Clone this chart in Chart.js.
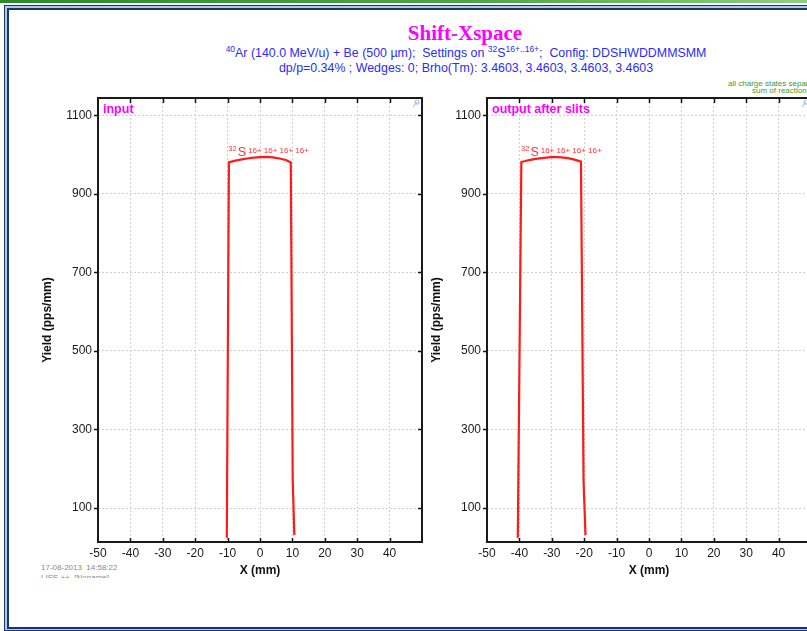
<!DOCTYPE html>
<html><head><meta charset="utf-8">
<script src="https://cdn.jsdelivr.net/npm/chart.js@4.4.1/dist/chart.umd.min.js"></script>
<style>
html,body{margin:0;padding:0;width:807px;height:631px;overflow:hidden;background:#fff;font-family:"Liberation Sans",Arial,sans-serif;}
#topbar{position:absolute;left:0;top:0;width:807px;height:3px;background:linear-gradient(to right,#2a8a2a,#4ea64a 60%,#8ccf84);}
#frame1{position:absolute;left:4px;top:5px;width:900px;height:626px;background:#b4c8e2;border-left:1px solid #17386a;border-top:1px solid #17386a;border-bottom:1px solid #17386a;box-sizing:border-box}
#frame2{position:absolute;left:7px;top:8px;width:900px;height:621px;background:#fff;border:2px solid #17386a;box-sizing:border-box}
.abs{position:absolute;white-space:nowrap}
#title{left:0;width:930px;top:23px;text-align:center;font:bold 21px/21px "Liberation Serif","Times New Roman",serif;color:#ff00ff}
.sub{left:0;width:932px;text-align:center;font:12.4px/14px "Liberation Sans",Arial,sans-serif;color:#2b2bff}
.sub sup{font-size:8.5px;line-height:0;position:relative;top:0px}
#sub1{top:46px}
#sub2{top:61px}
.grn{font:8px/7px "Liberation Sans",Arial,sans-serif;color:#3a9a3a}
#stamp{left:41px;top:563px;height:15px;overflow:hidden;font:8px/10px "Liberation Sans",Arial,sans-serif;color:#8a8a8a}
.chartbox{position:absolute;top:90px;width:430px;height:500px}
</style></head>
<body>
<div id="topbar"></div>
<div id="frame1"></div>
<div id="frame2"></div>
<div class="abs" id="title">Shift-Xspace</div>
<div class="abs sub" id="sub1"><sup>40</sup>Ar (140.0 MeV/u) + Be (500 µm);&nbsp; Settings on <sup>32</sup>S<sup>16+..16+</sup>;&nbsp; Config: DDSHWDDMMSMM</div>
<div class="abs sub" id="sub2">dp/p=0.34% ; Wedges: 0; Brho(Tm): 3.4603, 3.4603, 3.4603, 3.4603</div>
<div class="abs grn" style="left:728px;top:80px">all charge states separated</div>
<div class="abs grn" style="left:752px;top:87px">sum of reactions</div>
<div class="abs" id="stamp">17-08-2013&nbsp; 14:58:22<br>LISE ++&nbsp; [Noname]</div>
<div class="chartbox" style="left:0px"><canvas id="c1" width="430" height="500"></canvas></div>
<div class="chartbox" style="left:389px"><canvas id="c2" width="430" height="500"></canvas></div>
<script>
// ---- data ----
const xTicks = [-50, -40, -30, -20, -10, 0, 10, 20, 30, 40];
const yTicks = [100, 300, 500, 700, 900, 1100];
const xRange = [-50, 50];
const yRange = [13.5, 1144];

const inputX = [-10.25, -9.6, -8, -6, -4, -2, 0, 2, 4, 6, 8, 9.5, 10.1, 10.6];
const inputY = [24, 980, 984, 987, 990, 992, 993.5, 994, 993, 990, 986, 980, 170, 31];

const outputX = [-40.5, -39.4, -37, -35, -33, -31, -29.5, -27, -25, -23, -21, -20.2, -19.6];
const outputY = [24, 981, 986, 989, 991, 993, 994, 993, 991, 987, 982, 170, 31];

const panelLabels = ['input', 'output after slits'];
const annotX = [-9.8, -39.5];
const annotY = [1004, 1004];
const annotIsotope = ['32', 'S'];
const annotCharges = '16+ 16+ 16+ 16+';

const FAM = '"Liberation Sans", Arial, sans-serif';

const framePlugin = {
  id: 'frame',
  afterDraw(chart, args, o) {
    const {ctx, chartArea: {left, right, top, bottom}, scales: {x, y}} = chart;
    ctx.save();
    ctx.strokeStyle = '#111'; ctx.lineWidth = 1.5;
    const ln = (a, b, c, d) => { ctx.beginPath(); ctx.moveTo(a, b); ctx.lineTo(c, d); ctx.stroke(); };
    xTicks.forEach(v => {
      if (v <= xRange[0] || v >= xRange[1]) return;
      const px = Math.round(x.getPixelForValue(v)) + 0.5;
      ln(px, top, px, top + 5);
      ln(px, bottom, px, bottom - 4);
    });
    yTicks.forEach(v => {
      const py = Math.round(y.getPixelForValue(v)) + 0.5;
      ln(left - 4, py, left, py);
      ln(right, py, right - 4, py);
    });
    ctx.strokeStyle = '#1a1a1a'; ctx.lineWidth = 2;
    ctx.strokeRect(left, top, right - left, bottom - top);
    ctx.fillStyle = '#ff00ff';
    ctx.font = 'bold 12.5px ' + FAM;
    ctx.textBaseline = 'alphabetic';
    ctx.fillText(o.label, left + 5, top + 15);
    ctx.strokeStyle = '#a8c4e8'; ctx.lineWidth = 1.2;
    ln(right - 9, top + 9, right - 5, top + 4);
    ctx.beginPath(); ctx.arc(right - 5, top + 4, 2, 0, Math.PI * 2); ctx.stroke();
    const ax = x.getPixelForValue(o.ax), ay = y.getPixelForValue(o.ay);
    ctx.fillStyle = '#ff3333';
    ctx.font = '7.5px ' + FAM;
    ctx.fillText(annotIsotope[0], ax, ay - 2);
    ctx.font = '12.5px ' + FAM;
    ctx.fillText(annotIsotope[1], ax + 9.4, ay + 3);
    ctx.font = '8px ' + FAM;
    ctx.fillText(annotCharges, ax + 19.7, ay);
    ctx.restore();
  }
};

function makeChart(id, xs, ys, idx) {
  return new Chart(document.getElementById(id), {
    type: 'line',
    data: {
      datasets: [{
        data: xs.map((v, i) => ({x: v, y: ys[i]})),
        borderColor: '#ff1a1a',
        borderWidth: 2.2,
        pointRadius: 0,
        tension: 0,
        fill: false
      }]
    },
    options: {
      responsive: false,
      animation: false,
      layout: {padding: {left: 36, top: 8, right: 8, bottom: 0}},
      plugins: {
        legend: {display: false},
        tooltip: {enabled: false},
        frame: {label: panelLabels[idx], ax: annotX[idx], ay: annotY[idx]}
      },
      scales: {
        x: {
          type: 'linear', min: xRange[0], max: xRange[1],
          afterBuildTicks: s => { s.ticks = xTicks.map(v => ({value: v})); },
          afterFit: s => { s.height = 48; s.paddingLeft = 0; s.paddingRight = 0; },
          grid: {color: '#cfcfcf', drawTicks: false, lineWidth: 1},
          border: {display: false, dash: [2, 2]},
          ticks: {padding: 4, color: '#1a1a1a', font: {size: 12, family: FAM}, callback: v => String(v), maxRotation: 0, autoSkip: false},
          title: {display: true, text: 'X (mm)', color: '#111', font: {size: 12, weight: 'bold', family: FAM}, padding: {top: 0, bottom: 11.8}}
        },
        y: {
          type: 'linear', min: yRange[0], max: yRange[1],
          afterBuildTicks: s => { s.ticks = yTicks.map(v => ({value: v})); },
          afterFit: s => { s.width = 62; s.paddingTop = 0; s.paddingBottom = 0; },
          grid: {color: '#cfcfcf', drawTicks: false, lineWidth: 1},
          border: {display: false, dash: [2, 2]},
          ticks: {padding: 6, color: '#1a1a1a', font: {size: 12, family: FAM}, callback: v => String(v)},
          title: {display: true, text: 'Yield (pps/mm)', color: '#111', font: {size: 12, weight: 'bold', family: FAM}, padding: {top: 4.8, bottom: 0}}
        }
      }
    },
    plugins: [framePlugin]
  });
}
makeChart('c1', inputX, inputY, 0);
makeChart('c2', outputX, outputY, 1);
</script>
</body></html>
